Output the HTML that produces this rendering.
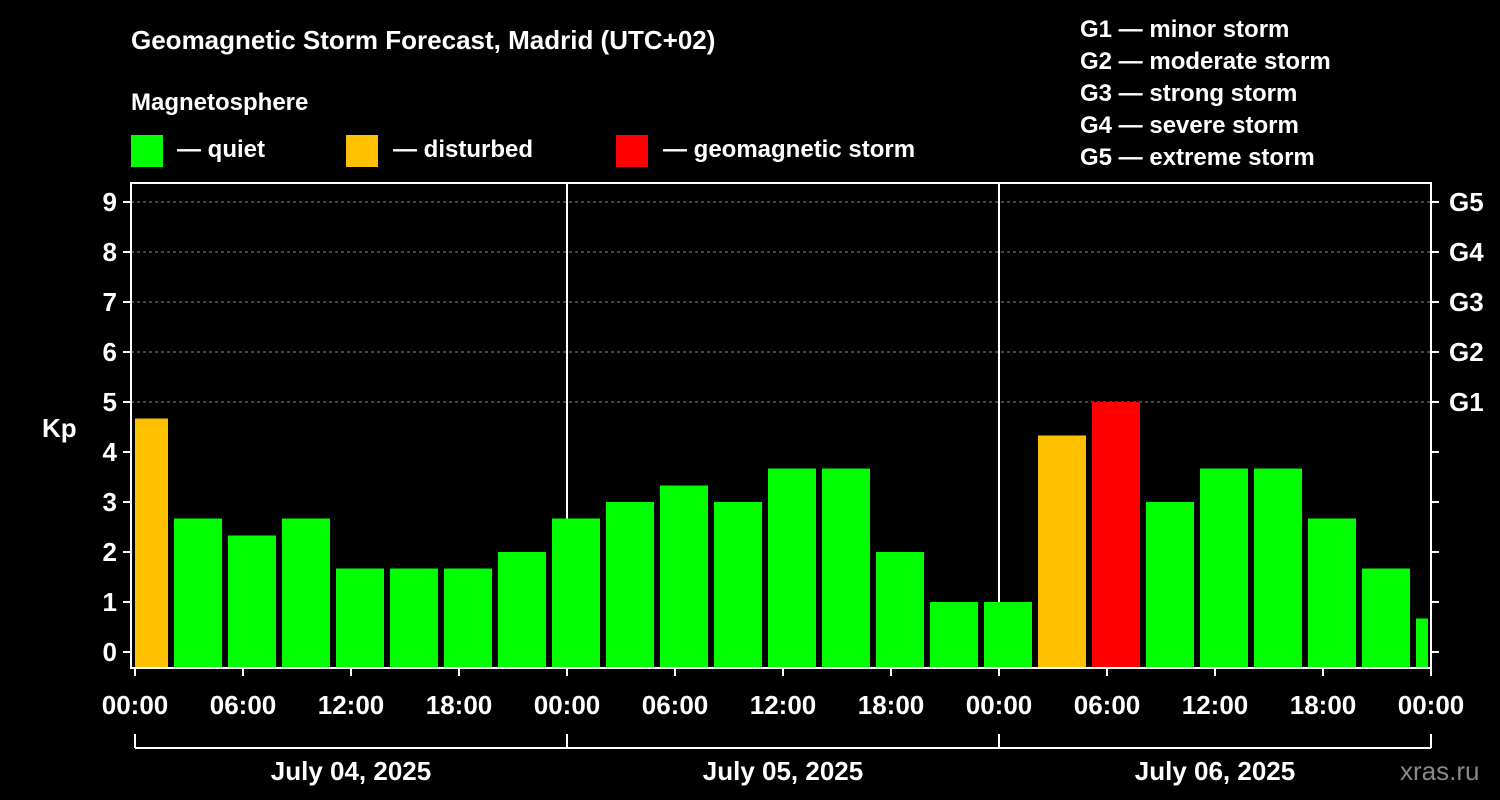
<!DOCTYPE html>
<html><head><meta charset="utf-8"><style>
html,body{margin:0;padding:0;background:#000;}
svg{display:block;font-family:"Liberation Sans",Arial,sans-serif;font-weight:bold;}
</style></head><body>
<svg id="c" width="1500" height="800" viewBox="0 0 1500 800">
<text x="131" y="49" fill="#fff" font-size="26">Geomagnetic Storm Forecast, Madrid (UTC+02)</text>
<text x="131" y="110" fill="#fff" font-size="24">Magnetosphere</text>
<g><rect x="131" y="135" width="32" height="32" fill="#00ff00"/><text x="177" y="157" fill="#fff" font-size="24">— quiet</text></g>
<g><rect x="346" y="135" width="32" height="32" fill="#ffc000"/><text x="393" y="157" fill="#fff" font-size="24">— disturbed</text></g>
<g><rect x="616" y="135" width="32" height="32" fill="#ff0000"/><text x="663" y="157" fill="#fff" font-size="24">— geomagnetic storm</text></g>
<g fill="#fff" font-size="24">
<text x="1080" y="37">G1 — minor storm</text>
<text x="1080" y="69">G2 — moderate storm</text>
<text x="1080" y="101">G3 — strong storm</text>
<text x="1080" y="133">G4 — severe storm</text>
<text x="1080" y="165">G5 — extreme storm</text>
</g>
<text x="42" y="437" fill="#fff" font-size="26">Kp</text>
<text x="1400" y="780" fill="#888" font-size="26" font-weight="normal">xras.ru</text>
<g id="grid"></g><g id="bars"></g><g id="axes"></g>
</svg>
<script>
const kpValues=[4.67,2.67,2.33,2.67,1.67,1.67,1.67,2.0,2.67,3.0,3.33,3.0,3.67,3.67,2.0,1.0,1.0,4.33,5.0,3.0,3.67,3.67,2.67,1.67,0.67];
const yTicks=[0,1,2,3,4,5,6,7,8,9];
const gLabels=["G1","G2","G3","G4","G5"];
const gLevels=[5,6,7,8,9];
const xTickLabels=["00:00","06:00","12:00","18:00","00:00","06:00","12:00","18:00","00:00","06:00","12:00","18:00","00:00"];
const dayLabels=["July 04, 2025","July 05, 2025","July 06, 2025"];
const NS="http://www.w3.org/2000/svg";
const L=131,R=1431,T=183,B=668,X0=135,X1=1428;
const y=v=>652-50*v;
const x=h=>135+18*h;
function mk(tag,attrs,parent,txt){const e=document.createElementNS(NS,tag);for(const k in attrs)e.setAttribute(k,attrs[k]);if(txt!==undefined)e.textContent=txt;parent.appendChild(e);return e;}
const grid=document.getElementById('grid'),bars=document.getElementById('bars'),axes=document.getElementById('axes');
gLevels.forEach(v=>{const l=mk('line',{x1:L,x2:R,y1:y(v),y2:y(v),stroke:'#888','stroke-dasharray':'3,3','stroke-width':1},grid);

});
[1,2].forEach(d=>{const l=mk('line',{x1:x(24*d),x2:x(24*d),y1:T,y2:B,stroke:'#fff','stroke-width':2},grid);

});
mk('clipPath',{id:'pc'},bars);
mk('rect',{x:X0,y:T,width:X1-X0,height:B-T},bars.lastChild);
kpValues.forEach((v,i)=>{const c=x(0.5+3*i);const col=v>=5?'#ff0000':(v>=4?'#ffc000':'#00ff00');
const r=mk('rect',{x:c-24,y:y(v),width:48,height:B-y(v),fill:col,'clip-path':'url(#pc)'},bars);

});
const f=mk('rect',{x:L,y:T,width:R-L,height:B-T,fill:'none',stroke:'#fff','stroke-width':2},axes);


yTicks.forEach(v=>{mk('line',{x1:L-8,x2:L,y1:y(v),y2:y(v),stroke:'#fff','stroke-width':2},axes);
mk('line',{x1:R,x2:R+8,y1:y(v),y2:y(v),stroke:'#fff','stroke-width':2},axes);
const t=mk('text',{x:L-14,y:y(v)+9,fill:'#fff','font-size':26,'text-anchor':'end'},axes,String(v));

});
gLevels.forEach((v,i)=>{const t=mk('text',{x:R+18,y:y(v)+9,fill:'#fff','font-size':26},axes,gLabels[i]);

});
xTickLabels.forEach((s,i)=>{const xx=x(6*i);mk('line',{x1:xx,x2:xx,y1:B,y2:B+8,stroke:'#fff','stroke-width':2},axes);
const t=mk('text',{x:xx,y:714,fill:'#fff','font-size':26,'text-anchor':'middle'},axes,s);

});
mk('line',{x1:x(0),x2:x(72),y1:748,y2:748,stroke:'#fff','stroke-width':2},axes);
[0,1,2,3].forEach(d=>mk('line',{x1:x(24*d),x2:x(24*d),y1:734,y2:748,stroke:'#fff','stroke-width':2},axes));
dayLabels.forEach((s,d)=>{const t=mk('text',{x:x(24*d+12),y:780,fill:'#fff','font-size':26,'text-anchor':'middle'},axes,s);

});
</script>
</body></html>
